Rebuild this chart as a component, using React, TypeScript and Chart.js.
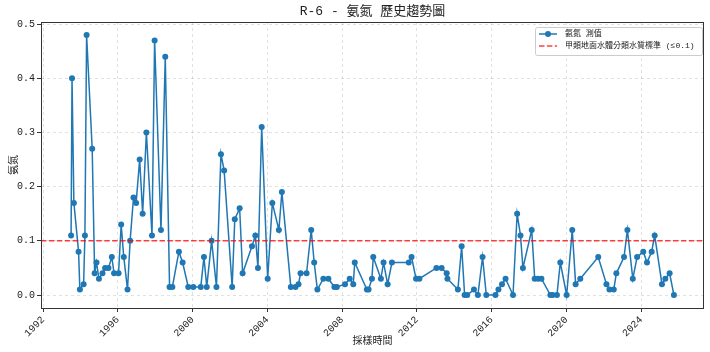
import React, { useEffect, useRef } from "react";
import { Chart, registerables } from "chart.js";

Chart.register(...registerables);

const TITLE = "R-6 - 氨氮 歷史趨勢圖";
const X_TITLE = "採樣時間";
const Y_TITLE = "氨氮";
const SERIES_LABEL = "氨氮 測值";
const THRESHOLD_LABEL = "甲類地面水體分類水質標準 (≤0.1)";
const THRESHOLD = 0.1;

const X_TICKS = [1992, 1996, 2000, 2004, 2008, 2012, 2016, 2020, 2024];
const Y_TICKS = [0, 0.1, 0.2, 0.3, 0.4, 0.5];

const YEARS = [
  1993.5, 1993.55, 1993.65, 1993.9, 1993.97, 1994.17, 1994.24, 1994.33, 1994.63, 1994.76,
  1994.86, 1994.99, 1995.18, 1995.32, 1995.5, 1995.68, 1995.8, 1996.04, 1996.18, 1996.32,
  1996.52, 1996.66, 1996.84, 1996.98, 1997.17, 1997.33, 1997.53, 1997.83, 1997.97, 1998.31,
  1998.54, 1998.77, 1998.92, 1999.27, 1999.47, 1999.77, 2000.04, 2000.44, 2000.61, 2000.76,
  2001.02, 2001.28, 2001.52, 2001.69, 2002.12, 2002.26, 2002.52, 2002.68, 2003.18, 2003.36,
  2003.5, 2003.7, 2004.02, 2004.27, 2004.62, 2004.78, 2005.26, 2005.51, 2005.67, 2005.78,
  2006.1, 2006.35, 2006.51, 2006.68, 2007.0, 2007.27, 2007.59, 2007.72, 2008.16, 2008.41,
  2008.6, 2008.68, 2009.33, 2009.42, 2009.6, 2009.67, 2010.08, 2010.22, 2010.44, 2010.67,
  2011.57, 2011.72, 2011.96, 2012.14, 2013.05, 2013.33, 2013.6, 2013.64, 2014.2, 2014.4,
  2014.56, 2014.7, 2015.06, 2015.27, 2015.52, 2015.72, 2016.21, 2016.37, 2016.56, 2016.75,
  2017.15, 2017.37, 2017.55, 2017.68, 2018.15, 2018.31, 2018.49, 2018.67, 2019.15, 2019.27,
  2019.5, 2019.68, 2020.02, 2020.32, 2020.5, 2020.75, 2021.71, 2022.15, 2022.31, 2022.54,
  2022.68, 2023.09, 2023.27, 2023.56, 2023.79, 2024.12, 2024.32, 2024.57, 2024.73, 2025.12,
  2025.3, 2025.53, 2025.76,
];

const VALUES = [
  0.11, 0.4, 0.17, 0.08, 0.01, 0.02, 0.11, 0.48, 0.27, 0.04,
  0.06, 0.03, 0.04, 0.05, 0.05, 0.07, 0.04, 0.04, 0.13, 0.07,
  0.01, 0.1, 0.18, 0.17, 0.25, 0.15, 0.3, 0.11, 0.47, 0.12,
  0.44, 0.015, 0.015, 0.08, 0.06, 0.015, 0.015, 0.015, 0.07, 0.015,
  0.1, 0.015, 0.26, 0.23, 0.015, 0.14, 0.16, 0.04, 0.09, 0.11,
  0.05, 0.31, 0.03, 0.17, 0.12, 0.19, 0.015, 0.015, 0.02, 0.04,
  0.04, 0.12, 0.06, 0.01, 0.03, 0.03, 0.015, 0.015, 0.02, 0.03,
  0.02, 0.06, 0.01, 0.01, 0.03, 0.07, 0.03, 0.06, 0.02, 0.06,
  0.06, 0.07, 0.03, 0.03, 0.05, 0.05, 0.04, 0.03, 0.01, 0.09,
  0.0, 0.0, 0.01, 0.0, 0.07, 0.0, 0.0, 0.01, 0.02, 0.03,
  0.0, 0.15, 0.11, 0.05, 0.12, 0.03, 0.03, 0.03, 0.0, 0.0,
  0.0, 0.06, 0.0, 0.12, 0.02, 0.03, 0.07, 0.02, 0.01, 0.01,
  0.04, 0.07, 0.12, 0.03, 0.07, 0.08, 0.06, 0.08, 0.11, 0.02,
  0.03, 0.04, 0.0,
];

const BLUE = "#1f77b4";
const RED = "rgba(255,0,0,0.75)";
const FONT_FAMILY = "'Liberation Mono', 'Noto Sans CJK TC', monospace";

const decor = {
  id: "decor",
  beforeDraw(chart: any) {
    const ctx = chart.ctx;
    ctx.save();
    ctx.fillStyle = "#ffffff";
    ctx.fillRect(0, 0, chart.width, chart.height);
    ctx.restore();
  },
  afterDatasetsDraw(chart: any) {
    const ctx = chart.ctx;
    const a = chart.chartArea;
    const y = chart.scales.y.getPixelForValue(THRESHOLD);
    ctx.save();
    ctx.strokeStyle = RED;
    ctx.lineWidth = 1.5;
    ctx.setLineDash([5.5, 2.4]);
    ctx.beginPath();
    ctx.moveTo(a.left, y);
    ctx.lineTo(a.right, y);
    ctx.stroke();
    ctx.setLineDash([]);
    ctx.strokeStyle = "#333";
    ctx.lineWidth = 1;
    ctx.strokeRect(a.left + 0.5, a.top + 0.5, a.right - a.left - 1, a.bottom - a.top);
    ctx.restore();
  },
  afterDraw(chart: any) {
    const ctx = chart.ctx;
    const a = chart.chartArea;
    ctx.save();
    ctx.fillStyle = "#222";
    ctx.textAlign = "center";
    ctx.textBaseline = "middle";
    ctx.font = `13px ${FONT_FAMILY}`;
    ctx.fillText(TITLE, (a.left + a.right) / 2, 12);
    ctx.font = `10px ${FONT_FAMILY}`;
    ctx.fillText(X_TITLE, (a.left + a.right) / 2, 341);
    ctx.save();
    ctx.translate(14, (a.top + a.bottom) / 2);
    ctx.rotate(-Math.PI / 2);
    ctx.fillText(Y_TITLE, 0, 0);
    ctx.restore();

    // legend
    const bx = 535, by = 27, bw = 167, bh = 28;
    ctx.fillStyle = "rgba(255,255,255,0.85)";
    ctx.strokeStyle = "#cccccc";
    ctx.lineWidth = 1;
    ctx.beginPath();
    ctx.roundRect(bx + 0.5, by + 0.5, bw, bh, 2);
    ctx.fill();
    ctx.stroke();

    const r1 = by + 7, r2 = by + 19;
    ctx.strokeStyle = BLUE;
    ctx.lineWidth = 1.5;
    ctx.beginPath();
    ctx.moveTo(539, r1);
    ctx.lineTo(557, r1);
    ctx.stroke();
    ctx.fillStyle = BLUE;
    ctx.beginPath();
    ctx.arc(548, r1, 3, 0, Math.PI * 2);
    ctx.fill();

    ctx.strokeStyle = RED;
    ctx.setLineDash([5.5, 2.4]);
    ctx.beginPath();
    ctx.moveTo(539, r2);
    ctx.lineTo(557, r2);
    ctx.stroke();
    ctx.setLineDash([]);

    ctx.fillStyle = "#222";
    ctx.textAlign = "left";
    ctx.font = `8px ${FONT_FAMILY}`;
    ctx.fillText(SERIES_LABEL, 565, r1);
    ctx.fillText(THRESHOLD_LABEL, 565, r2);
    ctx.restore();
  },
};

export default function App() {
  const ref = useRef<HTMLCanvasElement | null>(null);

  useEffect(() => {
    document.body.style.margin = "0";
    const canvas = ref.current;
    if (!canvas) return;
    const points = YEARS.map((x, i) => ({ x, y: VALUES[i] }));
    const chart = new Chart(canvas, {
      type: "line",
      data: {
        datasets: [
          {
            label: SERIES_LABEL,
            data: points,
            borderColor: BLUE,
            backgroundColor: BLUE,
            borderWidth: 1.5,
            pointRadius: 3,
            pointBackgroundColor: BLUE,
            pointBorderColor: BLUE,
            pointBorderWidth: 0,
            tension: 0,
            fill: false,
          },
        ],
      },
      options: {
        responsive: false,
        animation: false,
        devicePixelRatio: 1,
        layout: { padding: { top: 22, right: 6, left: 0, bottom: 0 } },
        plugins: {
          legend: { display: false },
          title: { display: false },
          tooltip: { enabled: false },
        },
        scales: {
          x: {
            type: "linear",
            min: 1991.89,
            max: 2027.37,
            afterBuildTicks: (s: any) => {
              s.ticks = X_TICKS.map((v) => ({ value: v }));
            },
            afterFit: (s: any) => {
              s.height = 44;
            },
            ticks: {
              autoSkip: false,
              minRotation: 45,
              maxRotation: 45,
              padding: 2,
              color: "#222",
              font: { family: FONT_FAMILY, size: 10 },
              callback: (v: any) => String(v),
            },
            grid: {
              color: "rgba(0,0,0,0.15)",
              lineWidth: 0.8,
              tickColor: "#333",
              tickLength: 4,
              tickWidth: 1,
              tickBorderDash: [],
            },
            border: { display: false, dash: [3, 3] },
          },
          y: {
            type: "linear",
            min: -0.024,
            max: 0.504,
            afterBuildTicks: (s: any) => {
              s.ticks = Y_TICKS.map((v) => ({ value: v }));
            },
            afterFit: (s: any) => {
              s.width = 41;
            },
            ticks: {
              padding: 2,
              color: "#222",
              font: { family: FONT_FAMILY, size: 10 },
              callback: (v: any) => Number(v).toFixed(1),
            },
            grid: {
              color: "rgba(0,0,0,0.15)",
              lineWidth: 0.8,
              tickColor: "#333",
              tickLength: 4,
              tickWidth: 1,
              tickBorderDash: [],
            },
            border: { display: false, dash: [3, 3] },
          },
        },
      },
      plugins: [decor],
    });
    return () => chart.destroy();
  }, []);

  return (
    <div style={{ width: 710, height: 352 }}>
      <canvas ref={ref} width={710} height={352} style={{ display: "block" }} />
    </div>
  );
}
